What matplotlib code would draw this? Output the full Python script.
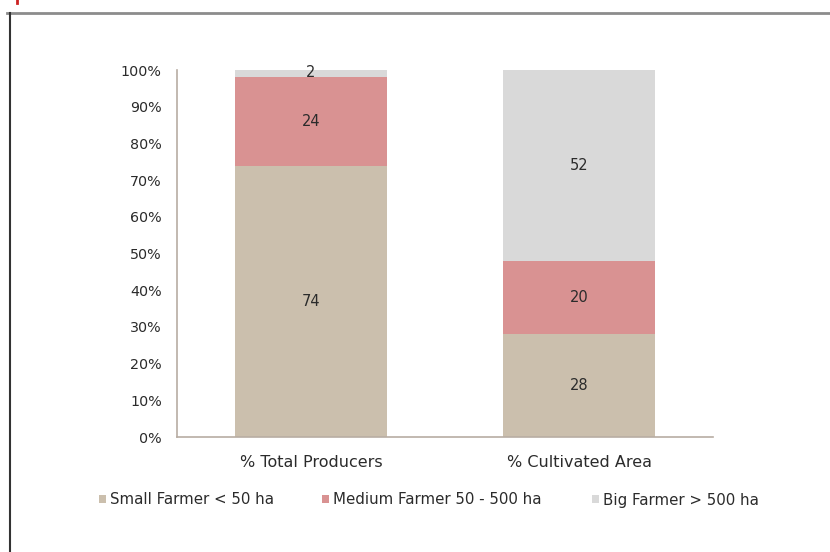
import matplotlib
matplotlib.use("Agg")
import matplotlib.pyplot as plt
from matplotlib.patches import Patch
from matplotlib.lines import Line2D

categories = ["% Total Producers", "% Cultivated Area"]
series_names = ["Small Farmer < 50 ha", "Medium Farmer 50 - 500 ha", "Big Farmer > 500 ha"]
small = [74, 28]
medium = [24, 20]
big = [2, 52]
colors = ["#CBBFAD", "#D99292", "#D9D9D9"]

plt.rcParams["font.family"] = ["DejaVu Sans"]
text_color = "#2B2B2B"

fig = plt.figure(figsize=(8.3, 5.52), dpi=100)
ax = fig.add_axes([0.2133, 0.2083, 0.6458, 0.6647])

x = list(range(len(categories)))
width = 0.567
bottom = [0, 0]
for vals, col in zip([small, medium, big], colors):
    ax.bar(x, vals, width, bottom=bottom, color=col, edgecolor="none")
    for xi, v, b in zip(x, vals, bottom):
        ypos = b + v / 2 if v > 4 else b + v / 2 + 0.4
        ax.text(xi, ypos, f"{v}", ha="center", va="center", fontsize=10.5, color=text_color)
    bottom = [b + v for b, v in zip(bottom, vals)]

ax.set_xlim(-0.5, 1.5)
ax.set_ylim(0, 100)
ax.set_yticks(range(0, 101, 10))
ax.set_yticklabels([f"{v}%" for v in range(0, 101, 10)])
ax.set_xticks(x)
ax.set_xticklabels(categories)
ax.tick_params(axis="both", length=0, colors=text_color)
ax.tick_params(axis="y", labelsize=10.3, pad=11)
ax.tick_params(axis="x", labelsize=11.5, pad=13)
for s in ["top", "right"]:
    ax.spines[s].set_visible(False)
for s in ["left", "bottom"]:
    ax.spines[s].set_color("#B8ADA3")
    ax.spines[s].set_linewidth(1.2)

# legend entries placed individually
legend_x = [99 / 830, 322 / 830, 592 / 830]
for name, col, lx in zip(series_names, colors, legend_x):
    fig.legend([Patch(facecolor=col, edgecolor="none")], [name], loc="center left",
               bbox_to_anchor=(lx, 1 - 500 / 552), frameon=False, fontsize=10.8,
               handlelength=0.45, handleheight=0.45, handletextpad=0.3,
               borderpad=0, borderaxespad=0, labelcolor=text_color)

# page frame
fig.add_artist(Line2D([0.0085, 1.0], [1 - 12.5 / 552] * 2, transform=fig.transFigure,
                      color="#8C8C8C", linewidth=2))
fig.add_artist(Line2D([0.0115, 0.0115], [0, 1 - 12.5 / 552], transform=fig.transFigure,
                      color="#333333", linewidth=1.5))
fig.add_artist(Line2D([0.021, 0.021], [1.0, 0.995], transform=fig.transFigure,
                      color="#CC2222", linewidth=2))

fig.savefig("out.png", dpi=100)
